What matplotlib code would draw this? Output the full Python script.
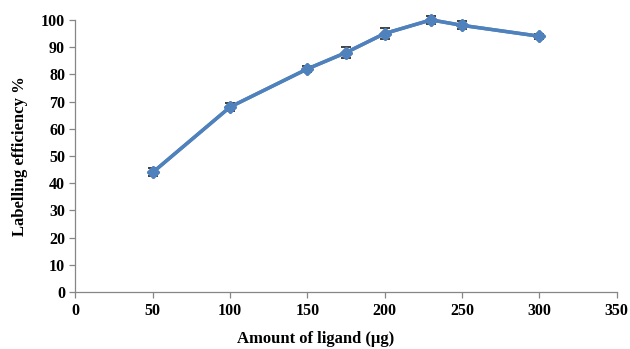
import matplotlib
matplotlib.use("Agg")
import matplotlib.pyplot as plt

amount = [50, 100, 150, 175, 200, 230, 250, 300]
efficiency = [44, 68, 82, 88, 95, 100, 98, 94]
err = [1.5, 1.5, 1.0, 2.0, 2.0, 1.5, 1.5, 1.0]
xticks = [0, 50, 100, 150, 200, 250, 300, 350]
yticks = list(range(0, 101, 10))

plt.rcParams['font.family'] = ['Liberation Serif', 'DejaVu Serif']
fig = plt.figure(figsize=(6.3, 3.49), dpi=100)
ax = fig.add_axes([0.1198, 0.163, 0.859, 0.78])

ax.errorbar(amount, efficiency, yerr=err, color='#4F81BD', lw=2.5,
            marker='D', markersize=6.5, ecolor='#222222', elinewidth=1,
            capsize=3.5, capthick=1.2, zorder=3, clip_on=False)
line, = ax.plot(amount, efficiency, color='#4F81BD', lw=2.5, marker='D',
                markersize=6.5, zorder=4, clip_on=False)

ax.set_xlim(0, 350)
ax.set_ylim(0, 100)
ax.set_xticks(xticks)
ax.set_yticks(yticks)
for s in ['top', 'right']:
    ax.spines[s].set_visible(False)
for s in ['left', 'bottom']:
    ax.spines[s].set_color('#868686')
    ax.spines[s].set_linewidth(0.9)
ax.tick_params(axis='both', colors='#868686', labelcolor='black', length=4, width=0.9,
               labelsize=11.5)
for lbl in ax.get_xticklabels() + ax.get_yticklabels():
    lbl.set_fontweight('bold')
ax.set_xlabel('Amount of ligand (μg)', fontsize=12, fontweight='bold', labelpad=9, x=0.443)
ax.set_ylabel('Labelling efficiency %', fontsize=12, fontweight='bold', labelpad=9)

fig.savefig('out.png', dpi=100)
